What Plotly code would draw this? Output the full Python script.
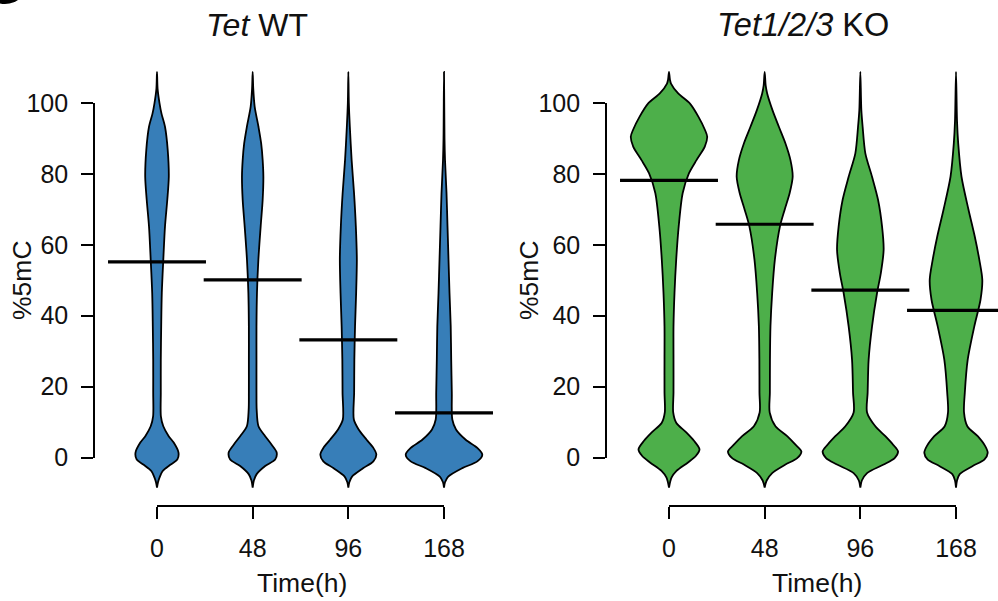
import plotly.graph_objects as go

# ---- data -----------------------------------------------------------------
time_labels = ["0", "48", "96", "168"]

# Median %5mC per time point
wt_medians = [55.2, 50.1, 33.2, 12.6]
ko_medians = [78.2, 65.8, 47.2, 41.5]

# Violin density profiles: (%5mC level, density half-width)
wt_0h = [(108.8, 0), (104, 0.6), (100, 2.5), (97, 4.5), (93.3, 8), (86.8, 10.7), (79.2, 11.8),
         (72.7, 10.3), (65.2, 8), (55.8, 6.3), (46.4, 4.8), (37, 4.2), (27.6, 3.8), (18.3, 3.8),
         (11.6, 3.9), (8.8, 6.3), (6, 11.7), (4.2, 16.7), (1.4, 21.5), (-0.6, 20.3), (-2, 13.7),
         (-3.9, 5.5), (-5.7, 2.5), (-7, 1), (-8.5, 0)]
wt_48h = [(108.8, 0), (104, 0.6), (99, 2), (93.3, 5.8), (88.6, 8.5), (83.9, 10), (79.2, 10.7),
          (72.7, 10), (65.2, 8), (55.8, 5.7), (46.4, 4.3), (37, 3.8), (27.6, 3.8), (18.3, 3.8),
          (13.5, 4), (8.8, 5.8), (6, 12.5), (3.6, 19), (1.4, 24), (-0.6, 22.5), (-2.4, 12.5),
          (-4.7, 4), (-6.5, 1.2), (-8.5, 0)]
wt_96h = [(108.8, 0), (100, 0.5), (93.3, 1.5), (83.9, 3.3), (74.6, 5.7), (65.2, 7.5), (55.8, 8.5),
          (46.4, 7.8), (37, 6.7), (27.6, 6), (18.3, 5.8), (10.7, 5.5), (7.9, 10.3), (5, 18.3),
          (2.7, 25), (0.8, 28), (-1.1, 25), (-3, 15), (-5.4, 3.7), (-7, 1), (-8.5, 0)]
wt_168h = [(108.8, 0), (90, 0.5), (83.9, 1), (74.6, 2.5), (65.2, 3.5), (55.8, 4.5), (46.4, 5.5),
           (37, 6.7), (27.6, 7.2), (18.3, 7.8), (10.7, 8.3), (7.9, 12), (5, 21.7), (2.7, 33.3),
           (0.8, 38.3), (-1.1, 33.3), (-3, 18.3), (-5.4, 4.2), (-7, 1), (-8.5, 0)]

ko_0h = [(108.8, 0), (106.5, 1), (105.5, 2), (102.7, 9.2), (99.9, 20.8), (96.1, 29.5), (92.4, 36),
         (90.5, 38.2), (87.7, 35.8), (83.9, 27.5), (80.2, 20), (74.6, 13.7), (65.2, 9.7),
         (55.8, 7.2), (46.4, 5.5), (37, 4.5), (27.6, 4.5), (18.3, 4.5), (12.7, 4.2), (9.8, 7.2),
         (7, 17.5), (4.7, 25), (2.3, 30.5), (0.5, 27), (-1.4, 19), (-3.8, 7.5), (-5.7, 2.5),
         (-8.5, 0)]
ko_48h = [(108.8, 0), (105, 1), (102.7, 2.5), (98, 7.8), (93.3, 14.2), (88.6, 20.8), (83.9, 25.8),
          (79.2, 28), (74.6, 25), (69.9, 20), (65.2, 15.3), (55.8, 10.2), (46.4, 7.5), (37, 5.8),
          (27.6, 5.3), (18.3, 5.2), (12.7, 5), (8.8, 10.8), (6, 22.5), (3.6, 30.8), (1.7, 36.7),
          (-0.2, 32.5), (-2, 20.8), (-4.4, 7.5), (-6.5, 2), (-8.5, 0)]
ko_96h = [(108.8, 0), (98, 1), (93.3, 2.3), (85.8, 5), (79.2, 11.7), (72.7, 17.7), (65.2, 21.7),
          (58.6, 23.3), (52, 20.5), (46.4, 16.7), (37, 11.7), (27.6, 8.3), (18.3, 7.3),
          (12.7, 6.7), (8.8, 15), (6, 25), (3.6, 32.8), (1.7, 37.7), (-0.2, 34.3), (-2, 23.3),
          (-4.4, 6.7), (-6.5, 1.5), (-8.5, 0)]
ko_168h = [(108.8, 0), (95, 1), (88.6, 2.2), (79.2, 5.5), (69.9, 12.5), (62.4, 18.7), (55.8, 23.3),
           (50.1, 26.3), (44.5, 24.5), (37, 18.3), (27.6, 11.7), (18.3, 8.8), (12.7, 8),
           (8.8, 11.3), (6, 21.7), (3.2, 29.2), (1.3, 31.7), (-0.6, 28.3), (-2.4, 16.7),
           (-4.7, 3.7), (-6.5, 1), (-8.5, 0)]

wt_profiles = [wt_0h, wt_48h, wt_96h, wt_168h]
ko_profiles = [ko_0h, ko_48h, ko_96h, ko_168h]

# ---- layout constants -----------------------------------------------------
W, H = 998, 601
STEP = 95.67            # pixels between neighbouring violins
DENSITY_SCALE = 1.0 / STEP
MEDIAN_HALF = 0.512
BLUE = "#377EB8"
GREEN = "#4DAF4A"
FONT = "Liberation Sans, Arial, sans-serif"
INK = "#111111"

Y_RANGE = [-12, 112]
Y_PX = (500.0, 60.5)      # pixel rows of Y_RANGE ends
Y0_PX, Y100_PX = 457.5, 103.0
XLINE_PX = 506


def py(px):
    return 1 - px / H


def px_x(px):
    return px / W


panels = [
    dict(name="wt", profiles=wt_profiles, medians=wt_medians, color=BLUE,
         axis_px=94, first_px=157, right_px=500, xa="x", ya="y", dx="x3", dy="y3"),
    dict(name="ko", profiles=ko_profiles, medians=ko_medians, color=GREEN,
         axis_px=606, first_px=669, right_px=998, xa="x2", ya="y2", dx="x4", dy="y4"),
]

fig = go.Figure()

for p in panels:
    for i, prof in enumerate(p["profiles"]):
        levels = [v for v, _ in prof]
        widths = [w * DENSITY_SCALE for _, w in prof]
        xs = [i + w for w in widths] + [i - w for w in reversed(widths)]
        ys = levels + list(reversed(levels))
        fig.add_trace(go.Scatter(
            x=xs, y=ys, mode="lines", fill="toself", fillcolor=p["color"],
            line=dict(color="black", width=1.8, shape="spline", smoothing=0.8),
            xaxis=p["xa"], yaxis=p["ya"], showlegend=False, hoverinfo="skip"))
    for i, m in enumerate(p["medians"]):
        fig.add_trace(go.Scatter(
            x=[i - MEDIAN_HALF, i + MEDIAN_HALF], y=[m, m], mode="lines",
            line=dict(color="black", width=3.2),
            xaxis=p["xa"], yaxis=p["ya"], showlegend=False, hoverinfo="skip"))
    # empty trace so the decorative axis pair forms a subplot
    fig.add_trace(go.Scatter(x=[], y=[], xaxis=p["dx"], yaxis=p["dy"], showlegend=False))

layout = dict(
    width=W, height=H, margin=dict(l=0, r=0, t=0, b=0, autoexpand=False),
    paper_bgcolor="white", plot_bgcolor="rgba(0,0,0,0)",
    font=dict(family=FONT, color=INK),
)

for p in panels:
    xkey = "xaxis" + p["xa"][1:]
    ykey = "yaxis" + p["ya"][1:]
    dxkey = "xaxis" + p["dx"][1:]
    dykey = "yaxis" + p["dy"][1:]
    left = (p["axis_px"] - p["first_px"]) / STEP
    right = (p["right_px"] - p["first_px"]) / STEP
    layout[xkey] = dict(domain=[px_x(p["axis_px"]), px_x(p["right_px"])], range=[left, right],
                        visible=False, anchor=p["ya"])
    layout[ykey] = dict(domain=[py(Y_PX[0]), py(Y_PX[1])], range=Y_RANGE,
                        visible=False, anchor=p["xa"])
    layout[dxkey] = dict(domain=[px_x(p["first_px"]), px_x(p["first_px"] + 3 * STEP)],
                         range=[0, 3], tickvals=[0, 1, 2, 3], ticktext=time_labels,
                         ticks="outside", ticklen=12, tickwidth=1.6, tickcolor="black",
                         showline=True, linewidth=1.6, linecolor="black",
                         showgrid=False, zeroline=False, anchor="free",
                         position=py(XLINE_PX), tickfont=dict(size=25),
                         ticklabelstandoff=8)
    layout[dykey] = dict(domain=[py(Y0_PX), py(Y100_PX)], range=[0, 100],
                         tickvals=[0, 20, 40, 60, 80, 100],
                         ticks="outside", ticklen=12, tickwidth=1.6, tickcolor="black",
                         showline=True, linewidth=1.6, linecolor="black",
                         showgrid=False, zeroline=False, anchor="free",
                         position=px_x(p["axis_px"]), tickfont=dict(size=25),
                         ticklabelstandoff=8)

fig.update_layout(**layout)

annotations = [
    dict(text="<i>Tet</i> WT", x=px_x(257), y=py(25), font=dict(size=32)),
    dict(text="<i>Tet1/2/3</i> KO", x=px_x(803), y=py(25), font=dict(size=32.5)),
    dict(text="%5mC", x=px_x(22), y=py(280), textangle=-90, font=dict(size=26.5)),
    dict(text="%5mC", x=px_x(529), y=py(280), textangle=-90, font=dict(size=26.5)),
    dict(text="Time(h)", x=px_x(302), y=py(583), font=dict(size=26.5)),
    dict(text="Time(h)", x=px_x(817), y=py(583), font=dict(size=26.5)),
]
for a in annotations:
    a.update(xref="paper", yref="paper", showarrow=False, xanchor="center", yanchor="middle")
fig.update_layout(annotations=annotations)

# panel badge peeking in at the top-left corner
fig.add_shape(type="circle", xref="paper", yref="paper",
              x0=px_x(-18), x1=px_x(28), y0=py(4), y1=py(-42),
              fillcolor="black", line=dict(width=0))

fig.write_html("out.html")
